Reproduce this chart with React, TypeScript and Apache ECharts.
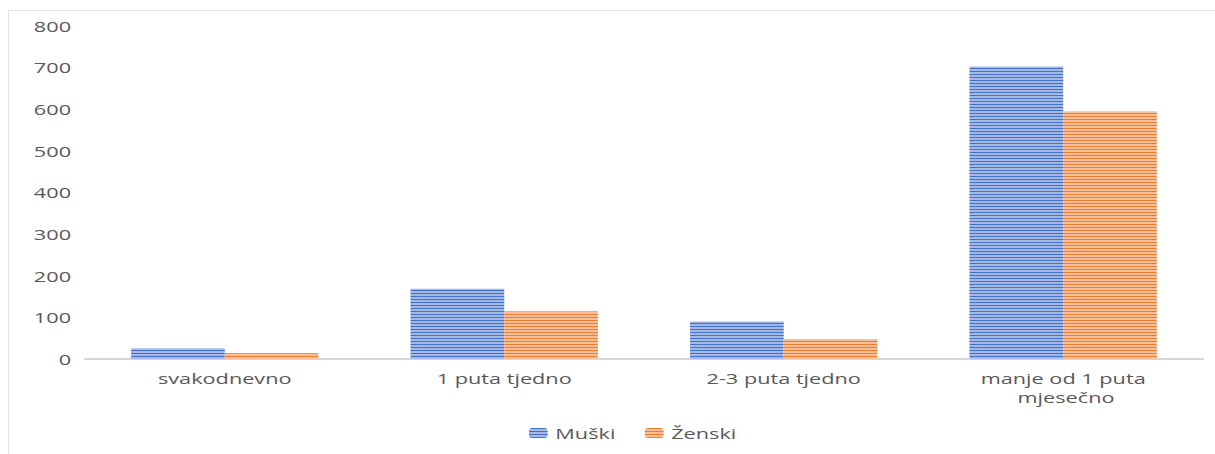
import React, { useEffect, useRef } from "react";
import * as echarts from "echarts";

const categories = ["svakodnevno", "1 puta tjedno", "2-3 puta tjedno", "manje od 1 puta mjesečno"];
const seriesNames = ["Muški", "Ženski"];
const muskiValues = [26, 169, 90, 703];
const zenskiValues = [14, 114, 48, 595];
const yMin = 0;
const yMax = 800;
const yInterval = 100;

const SX = 1.55;
const OUTER_W = 1206;
const OUTER_H = 443;

export default function App() {
  const ref = useRef<HTMLDivElement>(null);
  useEffect(() => {
    const chart = echarts.init(ref.current!, null, { renderer: "svg" });
    const font = "'Open Sans', 'Noto Sans', sans-serif";
    const stripe = (base: string, line: string) => ({
      color: base,
      decal: {
        symbol: "rect",
        symbolSize: 1,
        color: line,
        dashArrayX: [1, 0],
        dashArrayY: [1, 2],
        rotation: 0,
      },
    });
    chart.setOption({
      animation: false,
      textStyle: { fontFamily: font },
      grid: { left: (85 - 9) / SX, right: 12 / SX, top: 15, bottom: 95, containLabel: false },
      legend: {
        data: seriesNames,
        left: (529 - 9) / SX - 5,
        top: 410,
        itemWidth: 12,
        itemHeight: 10,
        itemGap: 19,
        textStyle: { color: "#595959", fontSize: 14, fontFamily: font },
      },
      xAxis: {
        type: "category",
        data: categories,
        axisLine: { lineStyle: { color: "#c8c8c8", width: 1.5 } },
        axisTick: { show: false },
        axisLabel: {
          color: "#595959",
          fontSize: 14,
          fontFamily: font,
          margin: 10,
          lineHeight: 19,
          width: 110,
          overflow: "break",
          interval: 0,
        },
      },
      yAxis: {
        type: "value",
        min: yMin,
        max: yMax,
        interval: yInterval,
        axisLine: { show: false },
        axisTick: { show: false },
        splitLine: { show: false },
        axisLabel: { color: "#595959", fontSize: 14, fontFamily: font, margin: 9 },
      },
      series: [
        {
          name: seriesNames[0],
          type: "bar",
          data: muskiValues,
          barGap: "0%",
          barCategoryGap: "33%",
          itemStyle: stripe("#a3b8e4", "#4472c4"),
        },
        {
          name: seriesNames[1],
          type: "bar",
          data: zenskiValues,
          barGap: "0%",
          barCategoryGap: "33%",
          itemStyle: stripe("#f7bf98", "#ed7d31"),
        },
      ],
    });
    return () => chart.dispose();
  }, []);
  return (
    <div
      style={{
        position: "absolute",
        left: 8,
        top: 10,
        width: OUTER_W,
        height: OUTER_H,
        borderTop: "1px solid #e3e3e3",
        borderLeft: "1px solid #e3e3e3",
        overflow: "hidden",
      }}
    >
      <div
        ref={ref}
        style={{ width: OUTER_W / SX, height: OUTER_H, transform: `scaleX(${SX})`, transformOrigin: "0 0" }}
      />
    </div>
  );
}
